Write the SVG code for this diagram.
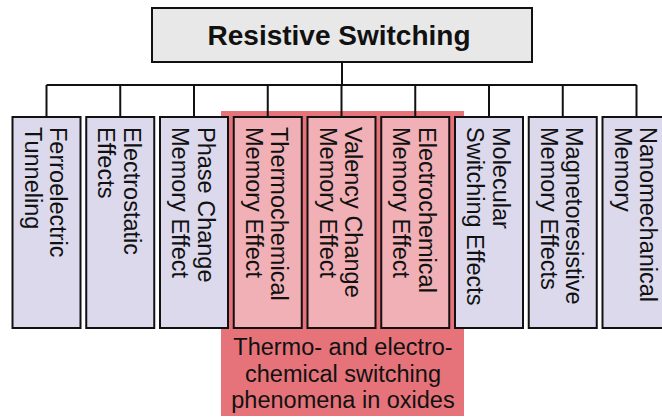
<svg xmlns="http://www.w3.org/2000/svg" width="662" height="417" viewBox="0 0 662 417">
<style>
.box{stroke:#111;stroke-width:2}
.lav{fill:#dcd9ec}
.pink{fill:#f0b0b5}
.line{stroke:#111;stroke-width:2;fill:none}
.t{font-family:"Liberation Sans",Arial,sans-serif;font-size:23.5px;fill:#111}
.title{font-family:"Liberation Sans",Arial,sans-serif;font-size:28px;font-weight:bold;fill:#111}
</style>
<rect width="662" height="417" fill="#fff"/>
<g id="oxides-group">
<rect x="221" y="111" width="243" height="305" fill="#e57379"/>
<text class="t" text-anchor="middle" x="343" y="355">Thermo- and electro-</text>
<text class="t" text-anchor="middle" x="343" y="381.5">chemical switching</text>
<text class="t" text-anchor="middle" x="343" y="407.5">phenomena in oxides</text>
</g>
<g id="connectors">
<path class="line" d="M342 62V85M46.5 85H636.5M46.5 85V117M120.25 85V117M194 85V117M267.75 85V117M341.5 85V117M415.25 85V117M489 85V117M562.75 85V117M636.5 85V117"/>
</g>
<g id="root">
<rect class="box" x="152" y="8" width="380" height="54" fill="#e8e8e8"/>
<text class="title" text-anchor="middle" x="339" y="45">Resistive Switching</text>
</g>
<g id="n1"><rect class="box lav" x="12.5" y="117" width="68" height="211"/>
<text class="t" transform="translate(12.5,127) rotate(90)"><tspan x="0" y="-37.5">Ferroelectric</tspan><tspan x="0" y="-12">Tunneling</tspan></text></g>
<g id="n2"><rect class="box lav" x="86.25" y="117" width="68" height="211"/>
<text class="t" transform="translate(86.25,127) rotate(90)"><tspan x="0" y="-37.5">Electrostatic</tspan><tspan x="0" y="-12">Effects</tspan></text></g>
<g id="n3"><rect class="box lav" x="160" y="117" width="68" height="211"/>
<text class="t" transform="translate(160,127) rotate(90)"><tspan x="0" y="-37.5">Phase Change</tspan><tspan x="0" y="-12">Memory Effect</tspan></text></g>
<g id="n4"><rect class="box pink" x="233.75" y="117" width="68" height="211"/>
<text class="t" transform="translate(233.75,127) rotate(90)"><tspan x="0" y="-37.5">Thermochemical</tspan><tspan x="0" y="-12">Memory Effect</tspan></text></g>
<g id="n5"><rect class="box pink" x="307.5" y="117" width="68" height="211"/>
<text class="t" transform="translate(307.5,127) rotate(90)"><tspan x="0" y="-37.5">Valency Change</tspan><tspan x="0" y="-12">Memory Effect</tspan></text></g>
<g id="n6"><rect class="box pink" x="381.25" y="117" width="68" height="211"/>
<text class="t" transform="translate(381.25,127) rotate(90)"><tspan x="0" y="-37.5">Electrochemical</tspan><tspan x="0" y="-12">Memory Effect</tspan></text></g>
<g id="n7"><rect class="box lav" x="455" y="117" width="68" height="211"/>
<text class="t" transform="translate(455,127) rotate(90)"><tspan x="0" y="-37.5">Molecular</tspan><tspan x="0" y="-12">Switching Effects</tspan></text></g>
<g id="n8"><rect class="box lav" x="528.75" y="117" width="68" height="211"/>
<text class="t" transform="translate(528.75,127) rotate(90)"><tspan x="0" y="-37.5">Magnetoresistive</tspan><tspan x="0" y="-12">Memory Effects</tspan></text></g>
<g id="n9"><rect class="box lav" x="602.5" y="117" width="68" height="211"/>
<text class="t" transform="translate(602.5,127) rotate(90)"><tspan x="0" y="-37.5">Nanomechanical</tspan><tspan x="0" y="-12">Memory</tspan></text></g>
</svg>
